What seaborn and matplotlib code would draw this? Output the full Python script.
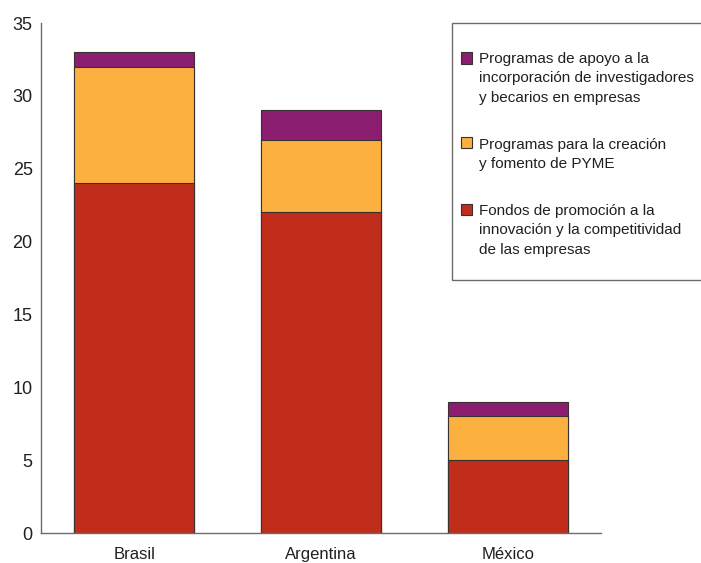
import matplotlib
matplotlib.use("Agg")
import matplotlib.pyplot as plt
from matplotlib.patches import Patch, Rectangle
from matplotlib.legend_handler import HandlerPatch
from matplotlib.font_manager import FontProperties
import numpy as np
import seaborn as sns

sns.set_style('white')
plt.rcParams['font.family'] = ['Liberation Sans', 'DejaVu Sans']

# data
paises = ['Brasil', 'Argentina', 'México']
fondos = [24, 22, 5]          # Fondos de promoción a la innovación...
pyme = [8, 5, 3]              # Programas para la creación y fomento de PYME
becarios = [1, 2, 1]          # Programas de apoyo a la incorporación...
yticks = [0, 5, 10, 15, 20, 25, 30, 35]

labels = ['Programas de apoyo a la\nincorporación de investigadores\ny becarios en empresas',
          'Programas para la creación\ny fomento de PYME',
          'Fondos de promoción a la\ninnovación y la competitividad\nde las empresas']

c_red = '#c02d1a'
c_orange = '#fbb040'
c_purple = '#8b1e70'
edge = '#3a3030'
txt = '#231f20'

fig = plt.figure(figsize=(7.01, 5.63), dpi=100)
ax = fig.add_axes([41 / 701, 30 / 563, (601 - 41) / 701, (533 - 23) / 563])

# stacked bars drawn as cumulative totals, back to front
tot2 = np.array(fondos) + np.array(pyme)
tot3 = tot2 + np.array(becarios)
for vals, col in [(tot3, c_purple), (tot2, c_orange), (fondos, c_red)]:
    sns.barplot(x=paises, y=vals, color=col, saturation=1, width=0.643,
                edgecolor=edge, linewidth=0.8, ax=ax)

ax.set_xlim(-0.5, 2.5)
ax.set_ylim(0, 35)
ax.set_yticks(yticks)
ax.tick_params(axis='y', length=0, pad=6, labelsize=13, labelcolor=txt)
ax.tick_params(axis='x', length=0, pad=10, labelsize=12, labelcolor=txt)
sns.despine(ax=ax)
for s in ['left', 'bottom']:
    ax.spines[s].set_color('#6b6b6b')
    ax.spines[s].set_linewidth(1.0)

# legend: handle aligned to first line of each label
fs = 11
ls = 1.49
renderer = fig.canvas.get_renderer()
_, lp_h, lp_d = renderer.get_text_width_height_descent(
    'lp', FontProperties(family='Liberation Sans', size=fs), ismath=False)
line_pt = ls * (lp_h - lp_d) * 72 / fig.dpi

handles = [Patch(facecolor=c, edgecolor=edge, linewidth=0.8)
           for c in [c_purple, c_orange, c_red]]
nlines = {id(h): lab.count('\n') + 1 for h, lab in zip(handles, labels)}


def first_line_patch(legend, orig_handle, xdescent, ydescent, width, height, fontsize):
    shift = (nlines[id(orig_handle)] - 1) / 2 * line_pt + 3
    return Rectangle((-xdescent, -ydescent + shift), width, height)


leg = fig.legend(handles, labels, loc='upper left',
                 bbox_to_anchor=(460.5 / 701, 1 - 52 / 563),
                 frameon=False, fontsize=fs, borderpad=0, borderaxespad=0,
                 handlelength=0.75, handleheight=0.75, handletextpad=0.45,
                 labelspacing=2.15,
                 handler_map={Patch: HandlerPatch(patch_func=first_line_patch)})
for t in leg.get_texts():
    t.set_linespacing(ls)
    t.set_color(txt)

fig.patches.append(Rectangle((451.7 / 701, 1 - 280 / 563), 0.6, (280 - 22.7) / 563,
                             transform=fig.transFigure, fill=False,
                             edgecolor='#6b6b6b', linewidth=1.0))

fig.savefig('out.png', dpi=100)
